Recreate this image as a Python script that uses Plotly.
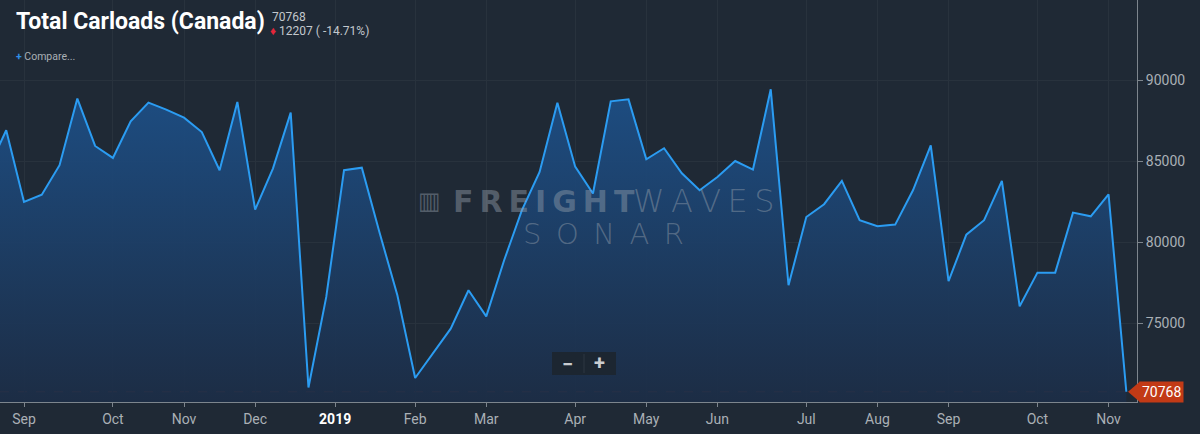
import plotly.graph_objects as go

# Weekly Canadian carloads (ordinal weekly positions, -1 = partial week off the left edge)
week_index = list(range(-1, 64))
carloads = [
    84580, 86930, 82500, 82950, 84770, 88890, 85960, 85220, 87490, 88640,
    88210, 87710, 86820, 84460, 88680, 82030, 84560, 88020, 71030, 76630,
    84460, 84620, 80600, 76730, 71620, 73160, 74670, 77040, 75430, 78880,
    81980, 84350, 88630, 84680, 83020, 88720, 88840, 85140, 85820, 84270,
    83220, 84040, 85030, 84500, 89460, 77350, 81570, 82360, 83800, 81370,
    81000, 81100, 83220, 86000, 77600, 80480, 81370, 83800, 76050, 78130,
    78130, 81840, 81610, 82975, 70768,
]
tick_positions = [1, 6, 10, 14, 18.5, 23, 27, 32, 36, 40, 45, 49, 53, 58, 62]
tick_labels = ["Sep", "Oct", "Nov", "Dec", "<span style='color:#ffffff'><b>2019</b></span>",
               "Feb", "Mar", "Apr", "May", "Jun", "Jul", "Aug", "Sep", "Oct", "Nov"]
y_ticks = [75000, 80000, 85000, 90000]
last_value = 70768
change_value = 12207
change_pct = -14.71

BG = "#1f2935"
W, H = 1200, 434
L, R, T, B = 0, 63, 0, 32
PW, PH = W - L - R, H - T - B


def px(x):
    return x / PW


def py(y):
    return 1 - y / PH


fig = go.Figure()
fig.add_trace(go.Scatter(
    x=week_index, y=carloads, mode="lines",
    line=dict(color="#2b9cf2", width=2),
    fill="tozeroy",
    fillgradient=dict(type="vertical",
                      colorscale=[[0, "rgba(28,45,70,0.92)"], [1, "rgba(29,82,140,0.92)"]],
                      start=70136, stop=90500),
    hoverinfo="skip", showlegend=False,
))

shapes = [
    dict(type="line", xref="paper", x0=0, x1=1, yref="y", y0=last_value, y1=last_value,
         line=dict(color="#9c3f2a", width=1, dash="dash"), layer="below"),
    # zoom buttons
    dict(type="rect", xref="paper", yref="paper", x0=px(552), x1=px(616), y0=py(375), y1=py(352),
         fillcolor="#1c2631", line=dict(width=0)),
    dict(type="line", xref="paper", yref="paper", x0=px(584), x1=px(584), y0=py(373), y1=py(354),
         line=dict(color="#2c3742", width=1)),
    # price tag arrow
    dict(type="path", xref="paper", yref="y",
         path=f"M {px(1128)},{last_value} L {px(1140)},{last_value + 640} L {px(1140)},{last_value - 640} Z",
         fillcolor="#c23a16", line=dict(width=0)),
]

wm_color = "rgba(150,160,172,0.45)"
sp = "\u2009"
en = "\u2002"
annotations = [
    dict(text="<b>Total Carloads (Canada)</b>", x=px(14), y=py(21), xref="paper", yref="paper",
         xanchor="left", yanchor="middle", showarrow=False,
         font=dict(family="Roboto", size=23, color="#ffffff")),
    dict(text=f"{last_value}", x=px(270), y=py(17), xref="paper", yref="paper",
         xanchor="left", yanchor="middle", showarrow=False,
         font=dict(family="Roboto", size=12, color="#c3c8cd")),
    dict(text=f"<span style='color:#e3263a'>♦</span> {change_value} ( {change_pct:.2f}%)",
         x=px(268), y=py(31), xref="paper", yref="paper",
         xanchor="left", yanchor="middle", showarrow=False,
         font=dict(family="Roboto", size=12, color="#c3c8cd")),
    dict(text="<span style='color:#2f8fe8'><b>+</b></span> Compare...", x=px(14), y=py(57),
         xref="paper", yref="paper", xanchor="left", yanchor="middle", showarrow=False,
         font=dict(family="Roboto", size=10.5, color="#aab0b6")),
    # watermark
    dict(text="▥", x=px(429), y=py(201), xref="paper", yref="paper", xanchor="center",
         yanchor="middle", showarrow=False, font=dict(family="DejaVu Sans", size=24, color=wm_color)),
    dict(text="<b>" + sp.join("FREIGHT") + "</b>", x=px(451), y=py(201), xref="paper", yref="paper",
         xanchor="left", yanchor="middle", showarrow=False,
         font=dict(family="DejaVu Sans", size=30, color=wm_color)),
    dict(text=sp.join("WAVES"), x=px(631), y=py(201), xref="paper", yref="paper", xanchor="left",
         yanchor="middle", showarrow=False,
         font=dict(family="DejaVu Sans", size=32, color=wm_color, weight=200)),
    dict(text=en.join("SONAR"), x=px(603), y=py(234), xref="paper", yref="paper", xanchor="center",
         yanchor="middle", showarrow=False,
         font=dict(family="DejaVu Sans", size=29, color=wm_color, weight=200)),
    # zoom buttons text
    dict(text="<b>−</b>", x=px(567), y=py(364), xref="paper", yref="paper", showarrow=False,
         xanchor="center", yanchor="middle",
         font=dict(family="Roboto", size=20, color="#c8ccd0")),
    dict(text="<b>+</b>", x=px(599), y=py(363), xref="paper", yref="paper", showarrow=False,
         xanchor="center", yanchor="middle",
         font=dict(family="Roboto", size=20, color="#c8ccd0")),
    # price tag
    dict(text=f"{last_value}", x=px(1139), y=last_value, xref="paper", yref="y", xanchor="left",
         yanchor="middle", showarrow=False, bgcolor="#c23a16", borderpad=2,
         font=dict(family="Roboto", size=14, color="#ffffff")),
]

fig.update_layout(
    width=W, height=H,
    margin=dict(l=L, r=R, t=T, b=B, pad=0),
    paper_bgcolor=BG, plot_bgcolor=BG,
    shapes=shapes, annotations=annotations,
    xaxis=dict(range=[-0.35, 63.6], tickvals=tick_positions, ticktext=tick_labels,
               showgrid=True, gridcolor="#28323d", gridwidth=1, zeroline=False,
               showline=True, linecolor="#7d858d", linewidth=1,
               ticks="outside", ticklen=4, tickcolor="#7d858d",
               tickfont=dict(family="Roboto", size=14, color="#aab0b6")),
    yaxis=dict(range=[70136, 94981], side="right", tickvals=y_ticks, tickformat="d",
               showgrid=True, gridcolor="#28323d", gridwidth=1, zeroline=False,
               showline=True, linecolor="#7d858d", linewidth=1,
               ticks="outside", ticklen=5, tickcolor="#7d858d",
               tickfont=dict(family="Roboto", size=14, color="#aab0b6")),
)

fig.write_html(
    "out.html",
    config={"displayModeBar": False},
    post_script="document.body.style.margin='0';document.body.style.background='#1f2935';",
)
